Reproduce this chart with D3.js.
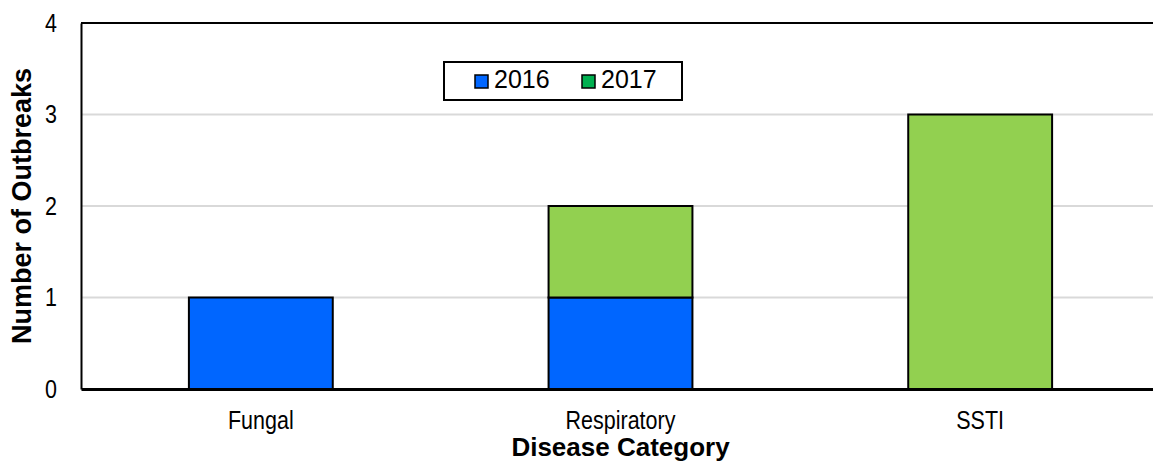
<!DOCTYPE html>
<html>
<head>
<meta charset="utf-8">
<script src="https://cdn.jsdelivr.net/npm/d3@7"></script>
<style>
  html, body { margin: 0; padding: 0; background: #fff; }
  svg { display: block; }
</style>
</head>
<body>
<svg id="chart" width="1153" height="473"></svg>
<script>
// Outbreaks by disease category, stacked by year
const categories = ["Fungal", "Respiratory", "SSTI"];
const years = ["2016", "2017"];
const outbreaks2016 = [1, 1, 0];
const outbreaks2017 = [0, 1, 3];
const yTicks = [0, 1, 2, 3, 4];

const barColors = { "2016": "#0066FF", "2017": "#92D050" };
const legendColors = { "2016": "#0066FF", "2017": "#00B050" };

const width = 1153, height = 473;
const margin = { top: 23, right: -7, bottom: 84, left: 81 };

// condensed look for the tick and category labels
const narrow = 0.86;
const labelFont = "'Liberation Sans', Arial, sans-serif";

const svg = d3.select("#chart");

const x = d3.scaleBand()
  .domain(categories)
  .range([margin.left, width - margin.right])
  .paddingInner(0.6)
  .paddingOuter(0.3);

const y = d3.scaleLinear()
  .domain([0, 4])
  .range([height - margin.bottom, margin.top]);

const rows = categories.map((c, i) => ({ category: c, "2016": outbreaks2016[i], "2017": outbreaks2017[i] }));
const stacked = d3.stack().keys(years)(rows);

// horizontal gridlines
svg.append("g")
  .selectAll("line")
  .data(yTicks.filter(t => t > 0 && t < 4))
  .join("line")
  .attr("x1", margin.left)
  .attr("x2", width - margin.right)
  .attr("y1", d => y(d))
  .attr("y2", d => y(d))
  .attr("stroke", "#d9d9d9")
  .attr("stroke-width", 2);

// top border of plot area
svg.append("line")
  .attr("x1", margin.left)
  .attr("x2", width - margin.right)
  .attr("y1", y(4))
  .attr("y2", y(4))
  .attr("stroke", "#000")
  .attr("stroke-width", 2);

// stacked bars
svg.append("g")
  .selectAll("g")
  .data(stacked)
  .join("g")
  .attr("fill", d => barColors[d.key])
  .selectAll("rect")
  .data(d => d.filter(s => s[1] - s[0] > 0))
  .join("rect")
  .attr("x", d => x(d.data.category))
  .attr("width", x.bandwidth())
  .attr("y", d => y(d[1]))
  .attr("height", d => y(d[0]) - y(d[1]))
  .attr("stroke", "#000")
  .attr("stroke-width", 2);

// y axis
const yPad = 24;
const yAxis = svg.append("g")
  .attr("transform", `translate(${margin.left},0)`)
  .call(d3.axisLeft(y).tickValues(yTicks).tickFormat(d3.format("d")).tickSize(0).tickPadding(yPad));
yAxis.select(".domain").attr("stroke", "#000").attr("stroke-width", 2);
yAxis.selectAll("text")
  .attr("x", -yPad / narrow)
  .attr("transform", `scale(${narrow},1)`)
  .attr("font-family", labelFont)
  .attr("font-size", 25)
  .attr("fill", "#000");

// x axis
const xAxis = svg.append("g")
  .attr("transform", `translate(0,${y(0)})`)
  .call(d3.axisBottom(x).tickSize(0).tickPadding(22));
xAxis.select(".domain").attr("stroke", "#000").attr("stroke-width", 3);
xAxis.selectAll("text")
  .attr("transform", `scale(${narrow},1)`)
  .attr("font-family", labelFont)
  .attr("font-size", 25)
  .attr("fill", "#000");

// axis titles
svg.append("text")
  .attr("x", (margin.left + 1160) / 2)
  .attr("y", 456)
  .attr("text-anchor", "middle")
  .attr("font-family", "'Liberation Sans', Arial, sans-serif")
  .attr("font-weight", "bold")
  .attr("font-size", 26)
  .text("Disease Category");

svg.append("text")
  .attr("transform", `translate(31,${(y(0) + y(4)) / 2}) rotate(-90)`)
  .attr("text-anchor", "middle")
  .attr("font-family", "'Liberation Sans', Arial, sans-serif")
  .attr("font-weight", "bold")
  .attr("font-size", 27)
  .text("Number of Outbreaks");

// legend
const legend = svg.append("g").attr("transform", "translate(444,62)");
legend.append("rect")
  .attr("width", 238)
  .attr("height", 38)
  .attr("fill", "#fff")
  .attr("stroke", "#000")
  .attr("stroke-width", 2);
const items = legend.selectAll("g.item")
  .data(years)
  .join("g")
  .attr("class", "item")
  .attr("transform", (d, i) => `translate(${31 + i * 107},13)`);
items.append("rect")
  .attr("width", 13)
  .attr("height", 13)
  .attr("fill", d => legendColors[d])
  .attr("stroke", "#000")
  .attr("stroke-width", 1.5);
items.append("text")
  .attr("x", 19)
  .attr("y", 13)
  .attr("font-family", "'Liberation Sans', Arial, sans-serif")
  .attr("font-size", 25)
  .attr("fill", "#000")
  .text(d => d);
</script>
</body>
</html>
